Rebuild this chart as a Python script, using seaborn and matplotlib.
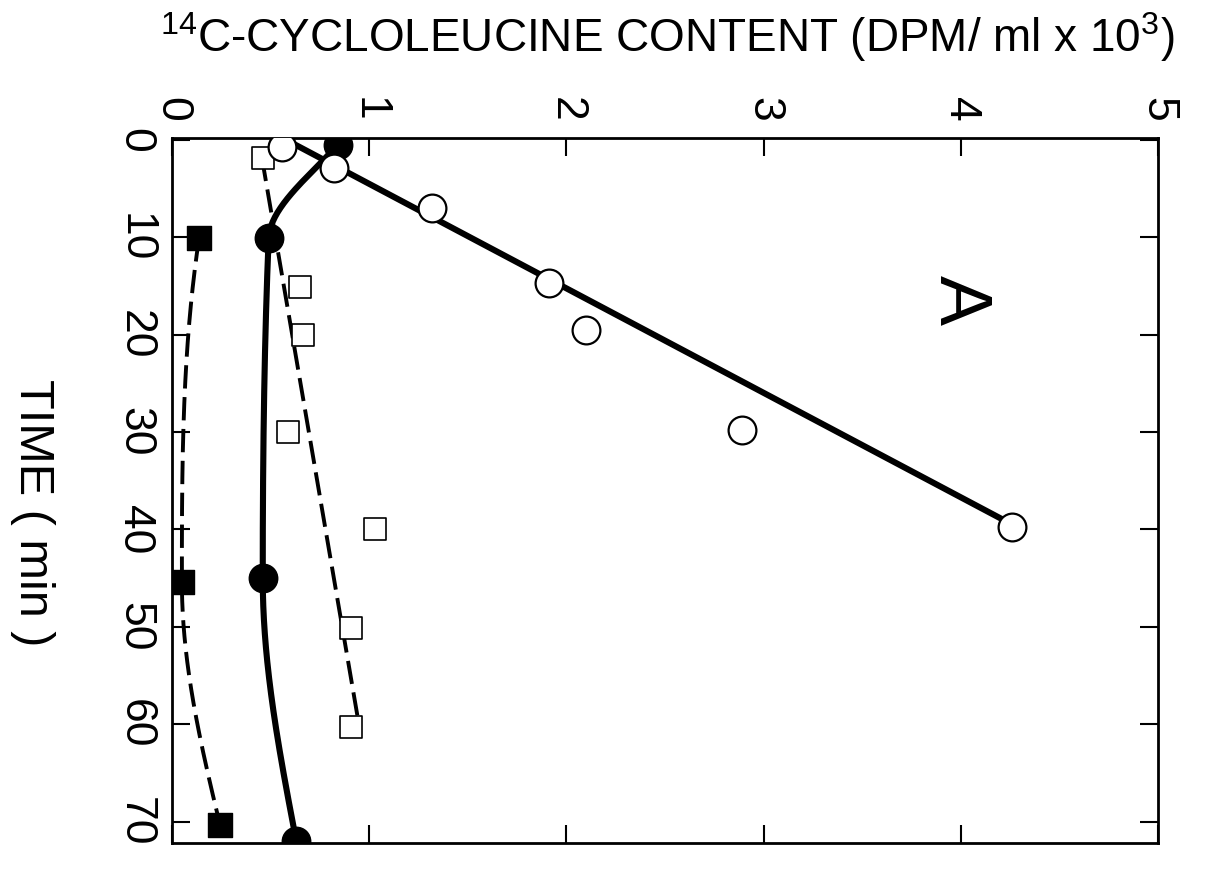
import numpy as np
import pandas as pd
import matplotlib
matplotlib.use("Agg")
import matplotlib.pyplot as plt
import seaborn as sns

# ---- data: time (min) and 14C-cycloleucine content (DPM/ml x 10^3) ----
time_open_circle = [0.7, 2.9, 7.0, 14.7, 19.5, 29.8, 39.7]
content_open_circle = [0.56, 0.82, 1.32, 1.91, 2.10, 2.89, 4.26]
# straight regression line drawn through the open circles
fit_time_open_circle = [0.0, 39.7]
fit_content_open_circle = [0.58, 4.28]

time_filled_circle = [0.5, 10.1, 45.0, 72.0]
content_filled_circle = [0.84, 0.49, 0.46, 0.63]

time_open_square = [1.85, 15.1, 20.0, 30.0, 40.0, 50.1, 60.3]
content_open_square = [0.46, 0.65, 0.665, 0.59, 1.03, 0.91, 0.91]
# dashed regression line drawn through the open squares
fit_time_open_square = [1.85, 60.3]
fit_content_open_square = [0.456, 0.95]

time_filled_square = [10.1, 45.4, 70.3]
content_filled_square = [0.137, 0.05, 0.243]

content_ticks = [0, 1, 2, 3, 4, 5]
time_ticks = [0, 10, 20, 30, 40, 50, 60, 70]

x_label = r"$^{14}$C-CYCLOLEUCINE CONTENT (DPM/ ml x 10$^{3}$)"
y_label = "TIME ( min )"
panel_label = "A"


def pchip(x, y, xn):
    """Monotone piecewise-cubic Hermite curve through the points (x, y)."""
    x = np.asarray(x, float)
    y = np.asarray(y, float)
    h = np.diff(x)
    d = np.diff(y) / h
    n = len(x)
    m = np.zeros(n)
    for k in range(1, n - 1):
        if d[k - 1] * d[k] > 0:
            w1 = 2 * h[k] + h[k - 1]
            w2 = h[k] + 2 * h[k - 1]
            m[k] = (w1 + w2) / (w1 / d[k - 1] + w2 / d[k])

    def end_slope(h0, h1, d0, d1):
        s = ((2 * h0 + h1) * d0 - h0 * d1) / (h0 + h1)
        if np.sign(s) != np.sign(d0):
            s = 0.0
        elif np.sign(d0) != np.sign(d1) and abs(s) > abs(3 * d0):
            s = 3 * d0
        return s

    m[0] = end_slope(h[0], h[1], d[0], d[1])
    m[-1] = end_slope(h[-1], h[-2], d[-1], d[-2])
    idx = np.clip(np.searchsorted(x, xn) - 1, 0, n - 2)
    t = (xn - x[idx]) / h[idx]
    h00 = 2 * t**3 - 3 * t**2 + 1
    h10 = t**3 - 2 * t**2 + t
    h01 = -2 * t**3 + 3 * t**2
    h11 = t**3 - t**2
    return (h00 * y[idx] + h10 * h[idx] * m[idx]
            + h01 * y[idx + 1] + h11 * h[idx] * m[idx + 1])


sns.set_theme(style="ticks")
plt.rcParams["font.family"] = ["Liberation Sans", "DejaVu Sans"]
plt.rcParams["mathtext.fontset"] = "custom"
plt.rcParams["mathtext.rm"] = "Liberation Sans"
plt.rcParams["mathtext.it"] = "Liberation Sans:italic"
plt.rcParams["mathtext.bf"] = "Liberation Sans:bold"
plt.rcParams["mathtext.default"] = "regular"

fig = plt.figure(figsize=(12.14, 8.71), dpi=100)
ax = fig.add_axes([0.1417, 0.0321, 0.8122, 0.8094])

solid_lw = 4.4
dash_lw = 2.8
dash_style = (0, (6.0, 2.2))

# smooth curves through the filled symbols
t_fc = np.linspace(time_filled_circle[0], time_filled_circle[-1], 300)
curve_fc = pd.DataFrame({"time": t_fc,
                         "content": pchip(time_filled_circle, content_filled_circle, t_fc)})
t_fs = np.linspace(time_filled_square[0], time_filled_square[-1], 300)
curve_fs = pd.DataFrame({"time": t_fs,
                         "content": pchip(time_filled_square, content_filled_square, t_fs)})

sns.lineplot(data=curve_fc, x="content", y="time", orient="y", estimator=None,
             color="black", linewidth=solid_lw, ax=ax, zorder=2)
sns.lineplot(data=curve_fs, x="content", y="time", orient="y", estimator=None,
             color="black", linewidth=dash_lw, linestyle=dash_style, ax=ax, zorder=2)

# straight lines through the open symbols
sns.lineplot(x=fit_content_open_circle, y=fit_time_open_circle, orient="y",
             estimator=None, color="black", linewidth=solid_lw, ax=ax, zorder=2)
sns.lineplot(x=fit_content_open_square, y=fit_time_open_square, orient="y",
             estimator=None, color="black", linewidth=dash_lw, linestyle=dash_style,
             ax=ax, zorder=2)

# symbols
sns.scatterplot(x=content_filled_square, y=time_filled_square, marker="s", s=300,
                color="black", edgecolor="black", linewidth=1.0, ax=ax, zorder=3)
sns.scatterplot(x=content_open_square, y=time_open_square, marker="s", s=260,
                color="white", edgecolor="black", linewidth=1.2, ax=ax, zorder=4)
sns.scatterplot(x=content_filled_circle, y=time_filled_circle, marker="o", s=420,
                color="black", edgecolor="black", linewidth=1.0, ax=ax, zorder=5)
sns.scatterplot(x=content_open_circle, y=time_open_circle, marker="o", s=400,
                color="white", edgecolor="black", linewidth=1.6, ax=ax, zorder=6)

# axes: content across the top, time running downward
ax.set_xlim(0, 5)
ax.set_ylim(72.2, -0.2)
ax.set_xticks(content_ticks)
ax.set_xticklabels([str(v) for v in content_ticks])
ax.set_yticks(time_ticks)
ax.set_yticklabels([str(v) for v in time_ticks])

for side in ["top", "bottom", "left", "right"]:
    ax.spines[side].set_visible(True)
    ax.spines[side].set_linewidth(2.0)
    ax.spines[side].set_color("black")

ax.tick_params(axis="x", which="both", top=True, bottom=True, labeltop=True,
               labelbottom=False, direction="in", length=13, width=1.5,
               pad=11.5, labelsize=32, labelrotation=-90, colors="black")
ax.tick_params(axis="y", which="both", left=True, right=True, labelleft=True,
               labelright=False, direction="in", length=13, width=1.5,
               pad=12, labelsize=32, labelrotation=-90, colors="black")
for lab in ax.get_yticklabels():
    lab.set_verticalalignment("center")

ax.xaxis.set_label_position("top")
ax.set_xlabel(x_label, fontsize=33, color="black", ha="left", va="baseline")
ax.xaxis.set_label_coords(-0.0122, 1.122)

ax.set_ylabel(y_label, fontsize=35, color="black", rotation=-90,
              ha="center", va="center")
ax.yaxis.set_label_coords(-0.141, 0.468)

ax.text(0.799, 0.770, panel_label, transform=ax.transAxes, fontsize=54,
        rotation=-90, ha="center", va="center", color="black")

ax.set_facecolor("white")
fig.patch.set_facecolor("white")
fig.savefig("out.png", dpi=100, facecolor="white")
